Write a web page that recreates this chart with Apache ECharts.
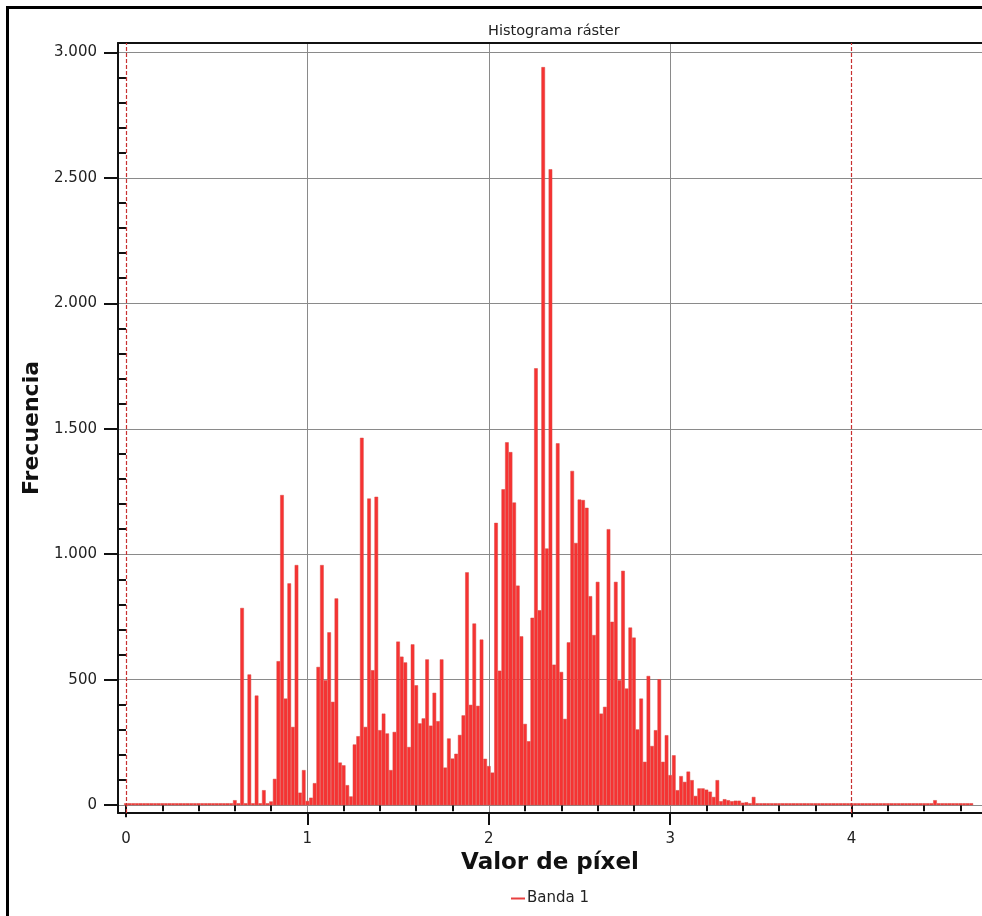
<!DOCTYPE html>
<html>
<head>
<meta charset="utf-8">
<title>Histograma ráster</title>
<script src="https://cdn.jsdelivr.net/npm/echarts@6/dist/echarts.min.js"></script>
<style>
  html, body { margin: 0; padding: 0; background: #fff; }
  #chart { width: 982px; height: 916px; }
</style>
</head>
<body>
<div id="chart"></div>
<script>
// bin width of the raster histogram (pixel value units)
const binWidth = 0.02;

// frequency per bin, starting at pixel value 0 (one row = 0.2 units)
const counts = [
  0, 0, 0, 0, 0, 0, 0, 0, 0, 0,
  0, 0, 0, 0, 0, 0, 0, 0, 0, 0,
  0, 0, 0, 0, 0, 0, 0, 0, 0, 0,
  20, 0, 786, 0, 521, 0, 437, 0, 60, 5,
  15, 105, 574, 1236, 425, 884, 312, 957, 50, 140,
  17, 30, 88, 551, 957, 498, 689, 412, 824, 170,
  159, 80, 35, 242, 275, 1464, 312, 1222, 538, 1229,
  299, 365, 286, 140, 292, 652, 592, 569, 232, 641,
  478, 326, 346, 581, 317, 448, 335, 581, 150, 266,
  186, 205, 280, 358, 928, 400, 724, 396, 660, 185,
  156, 130, 1125, 536, 1259, 1446, 1407, 1206, 875, 673,
  324, 255, 747, 1741, 777, 2941, 1023, 2534, 560, 1442,
  531, 344, 649, 1332, 1045, 1218, 1216, 1185, 833, 678,
  890, 365, 392, 1100, 731, 890, 498, 934, 465, 708,
  668, 302, 425, 173, 515, 236, 299, 502, 173, 279,
  120, 199, 60, 116, 93, 134, 100, 37, 67, 67,
  62, 54, 33, 100, 16, 24, 20, 16, 18, 18,
  10, 12, 8, 33, 0, 0, 0, 0, 0, 0,
  0, 0, 0, 0, 0, 0, 0, 0, 0, 0,
  0, 0, 0, 0, 0, 0, 0, 0, 0, 0,
  0, 0, 0, 0, 0, 0, 0, 0, 0, 0,
  0, 0, 0, 0, 0, 0, 0, 0, 0, 0,
  0, 0, 0, 20, 0, 0, 0, 0, 0, 0,
  0, 0, 0, 0
];

// min / max markers (red dashed lines)
const limits = [0, 4];

// tick values
const xLabels = [0, 1, 2, 3, 4];
const xGrid = [1, 2, 3];
const xMinor = [0.2, 0.4, 0.6, 0.8, 1.2, 1.4, 1.6, 1.8, 2.2, 2.4, 2.6, 2.8,
                3.2, 3.4, 3.6, 3.8, 4.2, 4.4, 4.6];
const yMajor = [0, 500, 1000, 1500, 2000, 2500, 3000];
const yMinor = [100, 200, 300, 400, 600, 700, 800, 900, 1100, 1200, 1300, 1400,
                1600, 1700, 1800, 1900, 2100, 2200, 2300, 2400, 2600, 2700, 2800, 2900];

const FONT = "DejaVu Sans";
const xMin = -0.044, xMax = 4.719;
const yMin = -31, yMax = 3037;

function thousands(v) {
  return String(v).replace(/\B(?=(\d{3})+(?!\d))/g, ".");
}

// extra axis that only draws ticks at the given values
function tickAxis(position, values, length) {
  return {
    type: "value",
    position: position,
    min: xMin,
    max: xMax,
    axisLine: { show: false },
    axisTick: { show: true, customValues: values, length: length, lineStyle: { color: "#111", width: 2 } },
    axisLabel: { show: false },
    splitLine: { show: false },
  };
}

const chart = echarts.init(document.getElementById("chart"));

const option = {
  animation: false,
  backgroundColor: "#fff",
  textStyle: { fontFamily: FONT },
  title: {
    text: "Histograma ráster",
    left: 483,
    top: 19,
    textStyle: { fontFamily: FONT, fontSize: 14.5, fontWeight: "normal", color: "#222" },
  },
  legend: {
    data: ["Banda 1"],
    left: 506,
    top: 886,
    icon: "rect",
    itemWidth: 14,
    itemHeight: 2,
    itemStyle: { color: "#e84040", borderWidth: 0 },
    textStyle: { fontFamily: FONT, fontSize: 15, color: "#222", padding: [0, 0, 0, -3] },
  },
  graphic: [
    {
      type: "rect",
      shape: { x: 7.5, y: 7.5, width: 1000, height: 1000 },
      style: { fill: "none", stroke: "#000", lineWidth: 3 },
      silent: true,
    },
  ],
  grid: { left: 118, top: 43, right: 0, bottom: 103 },
  xAxis: [
    {
      type: "value",
      position: "bottom",
      min: xMin,
      max: xMax,
      name: "Valor de píxel",
      nameLocation: "middle",
      nameGap: 38,
      nameTextStyle: { fontFamily: FONT, fontSize: 23, fontWeight: "bold", color: "#111" },
      axisLine: { show: true, onZero: false, lineStyle: { color: "#111", width: 2 } },
      axisTick: { show: true, customValues: xGrid, length: 12, lineStyle: { color: "#111", width: 2 } },
      axisLabel: { customValues: xLabels, margin: 19, fontFamily: FONT, fontSize: 15, color: "#222" },
      splitLine: { show: true, lineStyle: { color: "#8a8a8a", width: 1 } },
    },
    tickAxis("bottom", xMinor, 6),
    tickAxis("bottom", limits, 12),
    {
      type: "value",
      position: "top",
      min: xMin,
      max: xMax,
      axisLine: { show: true, onZero: false, lineStyle: { color: "#111", width: 2 } },
      axisTick: { show: false },
      axisLabel: { show: false },
      splitLine: { show: false },
    },
  ],
  yAxis: [
    {
      type: "value",
      position: "left",
      min: yMin,
      max: yMax,
      axisLine: { show: true, onZero: false, lineStyle: { color: "#111", width: 2 } },
      axisTick: { show: true, customValues: yMajor, length: 14, lineStyle: { color: "#111", width: 2 } },
      axisLabel: {
        customValues: yMajor,
        margin: 21,
        fontFamily: FONT,
        fontSize: 15,
        color: "#222",
        formatter: thousands,
      },
      splitLine: { show: true, lineStyle: { color: "#8a8a8a", width: 1 } },
      name: "Frecuencia",
      nameLocation: "middle",
      nameRotate: 90,
      nameGap: 66,
      nameTextStyle: { fontFamily: FONT, fontSize: 22, fontWeight: "bold", color: "#111" },
    },
    {
      type: "value",
      position: "left",
      min: yMin,
      max: yMax,
      axisLine: { show: false },
      axisTick: { show: true, customValues: yMinor, length: 8, lineStyle: { color: "#111", width: 2 } },
      axisLabel: { show: false },
      splitLine: { show: false },
    },
  ],
  series: [
    {
      name: "Banda 1",
      type: "bar",
      xAxisIndex: 0,
      yAxisIndex: 0,
      barWidth: 3.63,
      barMinHeight: 2,
      itemStyle: { color: "#f73232", borderColor: "#d84a44", borderWidth: 0.5 },
      data: counts.map((c, i) => [+(i * binWidth).toFixed(2), c]),
      markLine: {
        silent: true,
        symbol: "none",
        label: { show: false },
        lineStyle: { color: "#c83030", type: [4, 2], width: 1.2, opacity: 1 },
        data: limits.map((v) => ({ xAxis: v })),
      },
    },
  ],
};

chart.setOption(option);
</script>
</body>
</html>
